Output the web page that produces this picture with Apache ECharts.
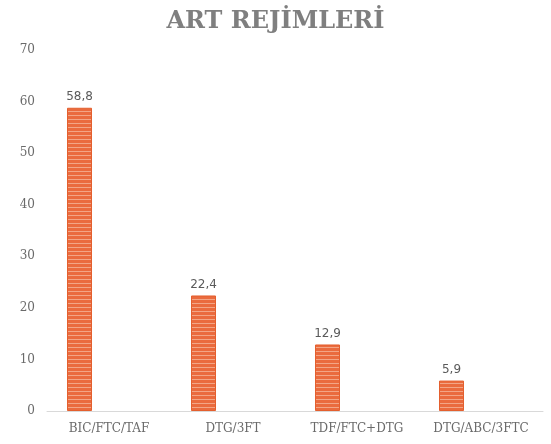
<!DOCTYPE html>
<html>
<head>
<meta charset="utf-8">
<script src="https://cdn.jsdelivr.net/npm/echarts@6/dist/echarts.min.js"></script>
<style>
  html, body { margin: 0; padding: 0; background: #fff; }
  #main { width: 551px; height: 444px; }
</style>
</head>
<body>
<div id="main"></div>
<script>
let titleText = "ART REJİMLERİ";
let categories = ["BIC/FTC/TAF", "DTG/3FT", "TDF/FTC+DTG", "DTG/ABC/3FTC"];
let values = [58.8, 22.4, 12.9, 5.9];
let yTicks = [0, 70, 10];

// striped fill like the original bars
let stripe = document.createElement("canvas");
stripe.width = 8;
stripe.height = 4;
let ctx = stripe.getContext("2d");
ctx.fillStyle = "#ea6b3e";
ctx.fillRect(0, 0, 8, 4);
ctx.fillStyle = "#f3a585";
ctx.fillRect(0, 3, 8, 1);

let myChart = echarts.init(document.getElementById("main"));

let option = {
  animation: false,
  title: {
    text: titleText,
    left: "center",
    top: 5,
    textStyle: {
      fontFamily: "DejaVu Serif",
      fontWeight: "bold",
      fontSize: 24,
      color: "#7f7f7f",
    },
  },
  grid: {
    left: 47,
    right: 8,
    top: 50,
    bottom: 33,
  },
  xAxis: {
    type: "category",
    data: categories,
    axisLine: { lineStyle: { color: "#d9d9d9", width: 1 } },
    axisTick: { show: false },
    axisLabel: {
      margin: 12,
      fontFamily: "DejaVu Serif",
      fontSize: 12,
      color: "#6a6a6a",
    },
  },
  yAxis: {
    type: "value",
    min: yTicks[0],
    max: yTicks[1],
    interval: yTicks[2],
    splitLine: { show: false },
    axisLine: { show: false },
    axisTick: { show: false },
    axisLabel: {
      margin: 12,
      fontFamily: "DejaVu Serif",
      fontSize: 12,
      color: "#6a6a6a",
    },
  },
  series: [
    {
      type: "bar",
      data: values,
      barWidth: 25,
      barGap: "136%",
      itemStyle: {
        color: { image: stripe, repeat: "repeat" },
        borderColor: "#e45f2e",
        borderWidth: 1,
      },
      label: {
        show: true,
        position: "top",
        distance: 5,
        fontFamily: "DejaVu Sans",
        fontSize: 12,
        color: "#5a5a5a",
        formatter: function (p) {
          return String(p.value).replace(".", ",");
        },
      },
    },
    {
      type: "bar",
      data: [null, null, null, null],
      barWidth: 25,
    },
  ],
};

myChart.setOption(option);
</script>
</body>
</html>
